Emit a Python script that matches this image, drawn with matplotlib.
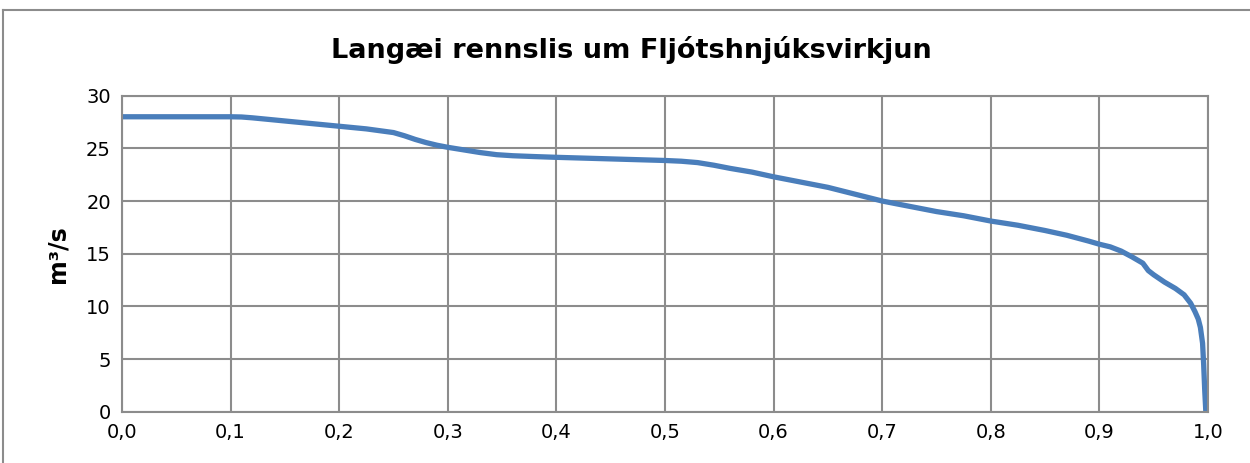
# Duration curve of flow at Fljótshnjúksvirkjun (Excel-style line chart)

import matplotlib.pyplot as plt
from matplotlib.lines import Line2D

title = 'Langæi rennslis um Fljótshnjúksvirkjun'
ylabel = 'm³/s'

# fraction of time (x) vs flow (m3/s)
frac = [0.0, 0.05, 0.10, 0.11, 0.12, 0.135, 0.15, 0.175, 0.20, 0.225, 0.25, 0.26,
        0.27, 0.28, 0.29, 0.30, 0.315, 0.33, 0.345, 0.36, 0.38, 0.40, 0.45, 0.50,
        0.515, 0.53, 0.545, 0.56, 0.58, 0.60, 0.625, 0.65, 0.675, 0.70, 0.725,
        0.75, 0.775, 0.80, 0.825, 0.85, 0.87, 0.89, 0.90, 0.91, 0.92, 0.93, 0.94,
        0.945, 0.95, 0.96, 0.97, 0.978, 0.984, 0.988, 0.991, 0.993, 0.995, 0.996,
        0.997, 0.998]
flow = [28.0, 28.0, 28.0, 27.98, 27.9, 27.75, 27.6, 27.35, 27.1, 26.85, 26.5, 26.2,
        25.85, 25.55, 25.3, 25.1, 24.85, 24.6, 24.4, 24.3, 24.22, 24.15, 24.0, 23.85,
        23.78, 23.65, 23.4, 23.1, 22.75, 22.3, 21.8, 21.3, 20.65, 20.0, 19.5,
        19.0, 18.6, 18.1, 17.7, 17.2, 16.75, 16.2, 15.9, 15.65, 15.25, 14.7, 14.1,
        13.4, 13.0, 12.3, 11.7, 11.1, 10.3, 9.5, 8.8, 8.0, 6.5, 4.5, 2.0, 0.0]

xticks = [i / 10 for i in range(11)]
xtick_labels = [f'{t:.1f}'.replace('.', ',') for t in xticks]
yticks = [0, 5, 10, 15, 20, 25, 30]

grid_col = '#8c8c8c'
line_col = '#4a7ebb'

fig = plt.figure(figsize=(12.5, 4.63), dpi=100)
ax = fig.add_axes([0.0976, 0.1108, 0.8688, 0.6825])

ax.plot(frac, flow, color=line_col, lw=3.8, solid_capstyle='round',
        solid_joinstyle='round')

ax.set_xlim(0, 1)
ax.set_ylim(0, 30)
ax.set_xticks(xticks)
ax.set_xticklabels(xtick_labels)
ax.set_yticks(yticks)
ax.tick_params(length=0, labelsize=14, pad=8, colors='black')
ax.grid(True, color=grid_col, lw=1.5)
for s in ax.spines.values():
    s.set_color(grid_col)
    s.set_linewidth(1.5)

ax.set_ylabel(ylabel, fontsize=17, fontweight='bold', labelpad=12)
fig.text(0.505, 0.892, title, ha='center', va='center', fontsize=19.5, fontweight='bold')

# outer chart frame (only top and left edges are inside the crop)
fig.add_artist(Line2D([3 / 1250, 1.0], [1 - 10 / 463, 1 - 10 / 463],
                      transform=fig.transFigure, color=grid_col, lw=1.5))
fig.add_artist(Line2D([3 / 1250, 3 / 1250], [0, 1 - 10 / 463],
                      transform=fig.transFigure, color=grid_col, lw=1.5))

plt.savefig('out.png', dpi=100)
